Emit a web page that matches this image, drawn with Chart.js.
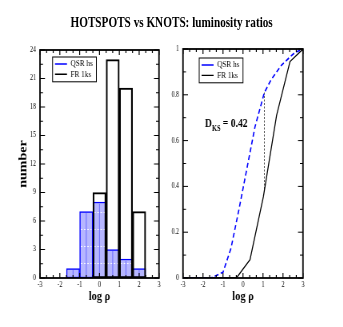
<!DOCTYPE html>
<html><head><meta charset="utf-8">
<script src="https://cdn.jsdelivr.net/npm/chart.js@4.4.0/dist/chart.umd.min.js"></script>
<style>
html,body{margin:0;padding:0;background:#fff;overflow:hidden;width:343px;height:327px;}
#wrap{position:absolute;left:0;top:0;width:429px;height:327px;transform:scaleX(0.8);transform-origin:0 0;}
#title{position:absolute;left:0;top:14px;width:429px;text-align:center;font:bold 14px "Liberation Serif","Times New Roman",serif;line-height:18px;color:#000;}
#c1{position:absolute;left:0;top:0;}
#c2{position:absolute;left:214px;top:0;}
</style></head><body>
<div id="wrap">
<div id="title">HOTSPOTS vs KNOTS: luminosity ratios</div>
<canvas id="c1" width="214" height="327"></canvas>
<canvas id="c2" width="215" height="327"></canvas>
</div>
<script>
// ---- data ----
const seriesNames = ['QSR hs', 'FR 1ks'];
const binWidth = 0.667;
const qsrBinCenters = [-1.333, -0.667, 0, 0.667, 1.333, 2.0];
const qsrCounts = [1, 7, 8, 3, 2, 1];
const frBinCenters = [0, 0.667, 1.333, 2.0];
const frCounts = [9, 23, 20, 7];
const qsrCdfX = [-3, -1.6, -1.0, -0.6, -0.2, 0.2, 0.6, 1.07, 1.4, 1.93, 2.35, 2.6, 3];
const qsrCdfY = [0, 0, 0.025, 0.13, 0.30, 0.48, 0.66, 0.81, 0.865, 0.93, 0.965, 0.985, 1];
const frCdfX = [-3, -0.33, 0.35, 1.02, 1.68, 2.35, 3];
const frCdfY = [0, 0, 0.08, 0.355, 0.71, 0.945, 1];
const ksX = [1.07, 1.07];
const ksY = [0.81, 0.385];
const ksText = ['D', 'KS', ' = 0.42'];
const xTickValues = [-3, -2, -1, 0, 1, 2, 3];
const histYTicks = [0, 3, 6, 9, 12, 15, 18, 21, 24];
const cdfYTicks = [0, 0.2, 0.4, 0.6, 0.8, 1];
const xTitle = 'log ρ';
const histYTitle = 'number';

// ---- styling helpers ----
const FONT = '"Liberation Serif","Times New Roman",serif';

function tickFrame(xDiv, yDiv) {
  return {
    id: 'tickFrame',
    afterDraw(chart) {
      const {ctx, chartArea: a, scales} = chart;
      const xs = scales.x, ys = scales.y;
      const xMaj = xs.ticks.map(t => t.value);
      const yMaj = ys.ticks.map(t => t.value);
      ctx.save();
      ctx.strokeStyle = '#000';
      const vLine = (px, len) => {
        ctx.beginPath();
        ctx.moveTo(px, a.bottom); ctx.lineTo(px, a.bottom - len);
        ctx.moveTo(px, a.top); ctx.lineTo(px, a.top + len);
        ctx.stroke();
      };
      const hLine = (py, len) => {
        ctx.beginPath();
        ctx.moveTo(a.left, py); ctx.lineTo(a.left + len, py);
        ctx.moveTo(a.right, py); ctx.lineTo(a.right - len, py);
        ctx.stroke();
      };
      ctx.lineWidth = 1.2;
      xMaj.forEach(v => vLine(xs.getPixelForValue(v), 5));
      for (let i = 0; i < xMaj.length - 1; i++)
        for (let k = 1; k < xDiv; k++)
          vLine(xs.getPixelForValue(xMaj[i] + (xMaj[i + 1] - xMaj[i]) * k / xDiv), 3);
      ctx.lineWidth = 1;
      yMaj.forEach(v => hLine(ys.getPixelForValue(v), 6.25));
      for (let i = 0; i < yMaj.length - 1; i++)
        for (let k = 1; k < yDiv; k++)
          hLine(ys.getPixelForValue(yMaj[i] + (yMaj[i + 1] - yMaj[i]) * k / yDiv), 3.75);
      ctx.lineWidth = 1.8;
      ctx.strokeRect(a.left, a.top, a.right - a.left, a.bottom - a.top);
      ctx.restore();
    }
  };
}

function legendPlace(lx, ly) {
  return {
    id: 'legendPlace',
    afterLayout(chart) {
      const lg = chart.legend;
      if (!lg) return;
      const p = lg.options.labels.padding;
      lg.left = lx - p;
      lg.top = ly - p;
    },
    afterDraw(chart) {
      const lg = chart.legend;
      if (!lg || !lg.legendHitBoxes || !lg.legendHitBoxes.length) return;
      let l = Infinity, t = Infinity, r = -Infinity, b = -Infinity;
      lg.legendHitBoxes.forEach(h => {
        l = Math.min(l, h.left); t = Math.min(t, h.top);
        r = Math.max(r, h.left + h.width); b = Math.max(b, h.top + h.height);
      });
      const ctx = chart.ctx;
      ctx.save();
      ctx.strokeStyle = '#000';
      ctx.lineWidth = 1;
      ctx.strokeRect(l - 3, t - 2.5, (r - l) + 7.5, (b - t) + 5.5);
      ctx.restore();
    }
  };
}

const hatchPlugin = {
  id: 'hatch',
  afterDatasetDraw(chart, args) {
    if (args.index !== 0) return;
    const ctx = chart.ctx;
    args.meta.data.forEach(el => {
      const {x, y, base, width} = el.getProps(['x', 'y', 'base', 'width'], true);
      const bw = 1.5;
      const L = x - width / 2 + bw, R = x + width / 2 - bw, T = y + bw, B = base - bw;
      if (B - T < 2) return;
      ctx.save();
      ctx.beginPath(); ctx.rect(L, T, R - L, B - T); ctx.clip();
      ctx.strokeStyle = 'rgba(70,70,255,0.75)';
      ctx.lineWidth = 0.9;
      ctx.beginPath(); ctx.moveTo(x, T); ctx.lineTo(x, B); ctx.stroke();
      ctx.strokeStyle = '#ffffff';
      ctx.lineWidth = 0.9;
      ctx.setLineDash([2, 2]);
      for (let py = base - 14.5; py > T + 1; py -= 17) {
        ctx.beginPath(); ctx.moveTo(L, py); ctx.lineTo(R, py); ctx.stroke();
      }
      ctx.restore();
    });
  }
};

const ksLabelPlugin = {
  id: 'ksLabel',
  afterDraw(chart) {
    const {ctx, scales} = chart;
    const px = scales.x.getPixelForValue(-1.9);
    const py = scales.y.getPixelForValue(0.658);
    ctx.save();
    ctx.fillStyle = '#000';
    ctx.textBaseline = 'alphabetic';
    ctx.textAlign = 'left';
    ctx.font = 'bold 12px ' + FONT;
    ctx.fillText(ksText[0], px, py);
    let cx = px + ctx.measureText(ksText[0]).width;
    ctx.font = 'bold 8px ' + FONT;
    ctx.fillText(ksText[1], cx, py + 4);
    cx += ctx.measureText(ksText[1]).width;
    ctx.font = 'bold 12px ' + FONT;
    ctx.fillText(ksText[2], cx, py);
    ctx.restore();
  }
};

function xScale() {
  return {
    type: 'linear', min: -3, max: 3, offset: false,
    grid: {display: false, drawTicks: false, offset: false},
    border: {display: false},
    afterBuildTicks: s => { s.ticks = xTickValues.map(v => ({value: v})); },
    ticks: {font: {family: FONT, size: 7.5}, color: '#000', padding: 3, maxRotation: 0, autoSkip: false, callback: v => String(v)},
    title: {display: true, text: xTitle, color: '#000', font: {family: FONT, size: 13, weight: 'bold'}, padding: {top: 0, bottom: 23}},
    afterFit: s => { s.height = 49; }
  };
}

function legendOpts() {
  return {
    position: 'chartArea', align: 'start',
    labels: {
      usePointStyle: true, pointStyle: 'line', pointStyleWidth: 15,
      font: {family: FONT, size: 9}, color: '#000', padding: 1.3,
      filter: item => item.datasetIndex < 2,
      sort: (a, b) => a.datasetIndex - b.datasetIndex
    }
  };
}

// bar width taken from the x scale for one bin width
const binThickness = ctx => {
  const s = ctx.chart.scales.x;
  return Math.abs(s.getPixelForValue(binWidth) - s.getPixelForValue(0));
};
const barCommon = {borderSkipped: false, grouped: false, barThickness: binThickness, barPercentage: 1, categoryPercentage: 1};

// ---- left: histogram ----
new Chart(document.getElementById('c1'), {
  type: 'bar',
  data: {
    datasets: [
      Object.assign({
        label: seriesNames[0],
        data: qsrBinCenters.map((x, i) => ({x: x, y: qsrCounts[i]})),
        backgroundColor: '#b6b6ff', borderColor: '#0000ff', borderWidth: 1.5, order: 1
      }, barCommon),
      Object.assign({
        label: seriesNames[1],
        data: frBinCenters.map((x, i) => ({x: x, y: frCounts[i]})),
        backgroundColor: 'rgba(0,0,0,0)', borderColor: '#000000', borderWidth: 1.5, order: 0
      }, barCommon)
    ]
  },
  options: {
    responsive: false, animation: false, devicePixelRatio: 1, events: [],
    layout: {padding: {left: 0, right: 15.25, top: 50, bottom: 0}},
    scales: {
      x: xScale(),
      y: {
        min: 0, max: 24,
        grid: {display: false, drawTicks: false},
        border: {display: false},
        afterBuildTicks: s => { s.ticks = histYTicks.map(v => ({value: v})); },
        ticks: {font: {family: FONT, size: 7.5}, color: '#000', padding: 5, autoSkip: false, callback: v => String(v)},
        title: {display: true, text: histYTitle, color: '#000', font: {family: FONT, size: 14, weight: 'bold'}, padding: {top: 20.6, bottom: 0}},
        afterFit: s => { s.width = 50; }
      }
    },
    plugins: {legend: legendOpts(), tooltip: {enabled: false}, title: {display: false}}
  },
  plugins: [hatchPlugin, tickFrame(3, 2), legendPlace(68.75, 59.5)]
});

// ---- right: cumulative distributions ----
new Chart(document.getElementById('c2'), {
  type: 'line',
  data: {
    datasets: [
      {
        label: seriesNames[0],
        data: qsrCdfX.map((x, i) => ({x: x, y: qsrCdfY[i]})),
        borderColor: '#0000ff', borderWidth: 1.6, borderDash: [5, 3],
        pointRadius: 0, tension: 0, fill: false
      },
      {
        label: seriesNames[1],
        data: frCdfX.map((x, i) => ({x: x, y: frCdfY[i]})),
        borderColor: '#000000', borderWidth: 1.3,
        pointRadius: 0, tension: 0, fill: false
      },
      {
        label: 'KS',
        data: ksX.map((x, i) => ({x: x, y: ksY[i]})),
        borderColor: '#555555', borderWidth: 1, borderDash: [2, 1.5],
        pointRadius: 0, tension: 0, fill: false
      }
    ]
  },
  options: {
    responsive: false, animation: false, devicePixelRatio: 1, events: [],
    layout: {padding: {left: 0, right: 50.25, top: 49, bottom: 0}},
    scales: {
      x: xScale(),
      y: {
        min: 0, max: 1,
        grid: {display: false, drawTicks: false},
        border: {display: false},
        afterBuildTicks: s => { s.ticks = cdfYTicks.map(v => ({value: v})); },
        ticks: {font: {family: FONT, size: 7.5}, color: '#000', padding: 5, autoSkip: false, callback: v => String(v)},
        afterFit: s => { s.width = 14.75; }
      }
    },
    plugins: {legend: legendOpts(), tooltip: {enabled: false}, title: {display: false}}
  },
  plugins: [tickFrame(3, 2), legendPlace(38, 60.5), ksLabelPlugin]
});
</script>
</body></html>
